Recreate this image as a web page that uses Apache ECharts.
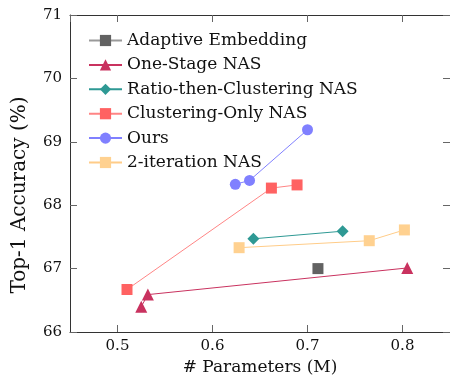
<!DOCTYPE html>
<html>
<head>
<meta charset="utf-8">
<script src="https://cdn.jsdelivr.net/npm/echarts@6/dist/echarts.min.js"></script>
<style>
html, body { margin: 0; padding: 0; background: #fff; }
#chart { width: 450px; height: 383px; }
</style>
</head>
<body>
<div id="chart"></div>
<script>
// names in legend order
var seriesNames = ['Adaptive Embedding', 'One-Stage NAS', 'Ratio-then-Clustering NAS',
	'Clustering-Only NAS', 'Ours', '2-iteration NAS'];

// params (M) / top-1 accuracy (%)
var adaptiveX = [0.711];
var adaptiveY = [67.00];
var oneStageX = [0.525, 0.532, 0.805];
var oneStageY = [66.40, 66.59, 67.01];
var ratioX = [0.643, 0.737];
var ratioY = [67.47, 67.59];
var clusterX = [0.510, 0.662, 0.689];
var clusterY = [66.67, 68.27, 68.32];
var oursX = [0.624, 0.639, 0.700];
var oursY = [68.33, 68.39, 69.19];
var iterX = [0.628, 0.765, 0.802];
var iterY = [67.33, 67.44, 67.61];

var xTicks = [0.5, 0.6, 0.7, 0.8];
var yTicks = [66, 67, 68, 69, 70, 71];

var FONT = 'DejaVu Serif';

function pairs(xs, ys) {
	var out = [];
	for (var i = 0; i < xs.length; i++) out.push([xs[i], ys[i]]);
	return out;
}

function mkSeries(idx, xs, ys, symbol, size, color, lineColor) {
	return {
		name: seriesNames[idx],
		type: 'line',
		data: pairs(xs, ys),
		symbol: symbol,
		symbolSize: size,
		showAllSymbol: true,
		itemStyle: { color: color, opacity: 1 },
		lineStyle: { color: lineColor || color, width: 1 },
		emphasis: { disabled: true }
	};
}

var axisLineStyle = { show: true, lineStyle: { color: '#333', width: 1 } };
var tickStyle = { show: true, inside: true, length: 7, lineStyle: { color: '#666', width: 1 } };

var chart = echarts.init(document.getElementById('chart'));
chart.setOption({
	animation: false,
	textStyle: { fontFamily: FONT },
	grid: { left: 70, top: 15, width: 383, height: 317, containLabel: false },
	legend: {
		orient: 'vertical',
		left: 88,
		top: 32,
		padding: 0,
		itemWidth: 33,
		itemHeight: 14,
		itemGap: 7.4,
		data: seriesNames,
		textStyle: { fontFamily: FONT, fontSize: 17, lineHeight: 17, color: '#111' }
	},
	xAxis: [{
		type: 'value',
		min: 0.45,
		max: 0.85,
		splitNumber: 4,
		name: '# Parameters (M)',
		nameLocation: 'middle',
		nameGap: 26,
		nameTextStyle: { fontFamily: FONT, fontSize: 17, color: '#111' },
		axisLine: axisLineStyle,
		axisTick: tickStyle,
		splitLine: { show: false },
		axisLabel: {
			showMinLabel: false,
			showMaxLabel: false,
			margin: 7,
			fontFamily: FONT,
			fontSize: 15,
			color: '#111',
			formatter: function (v) {
				return xTicks.indexOf(Math.round(v * 100) / 100) >= 0 ? v.toFixed(1) : '';
			}
		}
	}, {
		type: 'value',
		position: 'top',
		min: 0.45,
		max: 0.85,
		splitNumber: 4,
		axisLine: axisLineStyle,
		axisTick: tickStyle,
		splitLine: { show: false },
		axisLabel: { show: false }
	}],
	yAxis: [{
		type: 'value',
		min: 66,
		max: 71,
		interval: 1,
		axisLine: axisLineStyle,
		axisTick: tickStyle,
		splitLine: { show: false },
		axisLabel: {
			margin: 8,
			fontFamily: FONT,
			fontSize: 15,
			color: '#111',
			formatter: function (v) { return yTicks.indexOf(v) >= 0 ? String(v) : ''; }
		}
	}, {
		type: 'value',
		position: 'right',
		min: 66,
		max: 71,
		interval: 1,
		axisLine: axisLineStyle,
		axisTick: tickStyle,
		splitLine: { show: false },
		axisLabel: { show: false }
	}],
	graphic: [{
		type: 'text',
		x: 20,
		y: 195,
		rotation: Math.PI / 2,
		style: {
			text: 'Top-1 Accuracy (%)',
			font: '20px "DejaVu Serif"',
			fill: '#111',
			textAlign: 'center',
			textVerticalAlign: 'middle'
		}
	}],
	series: [
		mkSeries(0, adaptiveX, adaptiveY, 'rect', 11, '#626262', '#9a9a9a'),
		mkSeries(1, oneStageX, oneStageY, 'triangle', 12, '#c9325f'),
		mkSeries(2, ratioX, ratioY, 'diamond', 12, '#2e9994'),
		mkSeries(3, clusterX, clusterY, 'rect', 11, '#ff6262', '#ff8585'),
		mkSeries(4, oursX, oursY, 'circle', 11, '#8080ff'),
		mkSeries(5, iterX, iterY, 'rect', 11, '#ffd190', '#ffcc88')
	]
});
</script>
</body>
</html>
